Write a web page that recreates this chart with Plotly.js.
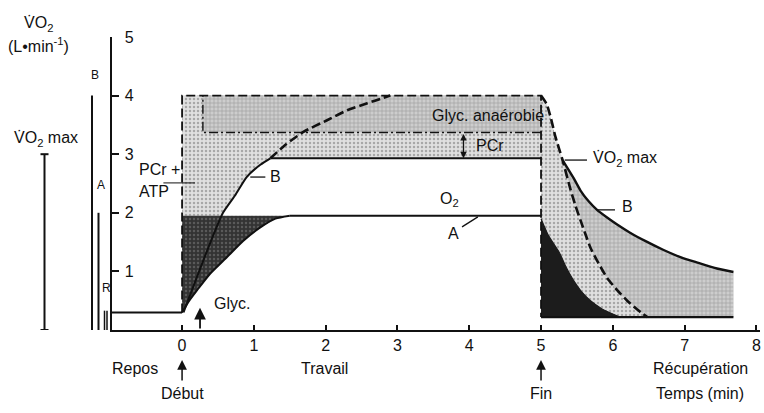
<!DOCTYPE html>
<html><head><meta charset="utf-8">
<script src="https://cdn.plot.ly/plotly-3.0.1.min.js"></script>
<style>html,body{margin:0;padding:0;background:#fff}#chart{width:764px;height:413px}</style>
</head><body><div id="chart"></div>
<script>
// ---- values (time in min, VO2 in L/min) ----
const axisStart = -1;
const restLevel = 0.3;
const recoveryFloor = 0.22;
const workStart = 0;
const workEnd = 5;
const demandLevel = 4.0;
const vo2maxLevel = 2.93;
const steadyLevel = 1.95;
const glycStart = 0.29;
const glycBottom = 3.37;
const recoveryEnd = 7.68;
const pcrArrowT = 3.92;
const glycArrowT = 0.25;
const glycArrowV = 0.38;

// curve A (O2 uptake at work onset)
const aOnT = [0, 0.1, 0.21, 0.39, 0.63, 0.85, 1.09, 1.3, 1.5];
const aOnV = [0.3, 0.5, 0.68, 0.96, 1.25, 1.52, 1.75, 1.9, 1.95];
// curve B, solid part (up to VO2max)
const bOnT = [0.02, 0.2, 0.38, 0.57, 0.74, 0.9, 1.09, 1.23];
const bOnV = [0.3, 0.88, 1.45, 2.0, 2.3, 2.61, 2.82, 2.93];
// curve B, dashed part (above VO2max)
const bDashT = [1.23, 1.45, 1.69, 2.02, 2.3, 2.58, 2.8, 2.9];
const bDashV = [2.93, 3.17, 3.38, 3.58, 3.75, 3.87, 3.96, 4.0];
// recovery: dashed curve
const recDashT = [5.0, 5.08, 5.14, 5.2, 5.3, 5.41, 5.48, 5.55, 5.62, 5.69, 5.8, 5.92, 6.06, 6.2, 6.34, 6.48];
const recDashV = [4.0, 3.85, 3.6, 3.3, 2.9, 2.4, 2.12, 1.87, 1.63, 1.4, 1.14, 0.89, 0.68, 0.5, 0.35, 0.22];
// recovery: curve B (solid)
const recBT = [5.3, 5.45, 5.55, 5.66, 5.78, 5.92, 6.06, 6.24, 6.45, 6.7, 6.95, 7.18, 7.45, 7.68];
const recBV = [2.9, 2.6, 2.38, 2.2, 2.05, 1.92, 1.8, 1.66, 1.52, 1.37, 1.24, 1.15, 1.05, 0.99];
// recovery: curve A (dark area edge)
const recAT = [5.0, 5.1, 5.26, 5.35, 5.45, 5.56, 5.68, 5.85, 6.1];
const recAV = [1.9, 1.62, 1.31, 1.07, 0.85, 0.66, 0.51, 0.36, 0.22];

const xTicks = [0, 1, 2, 3, 4, 5, 6, 7, 8];
const yTicks = [1, 2, 3, 4, 5];

// ---- styles ----
const INK = '#111';
const FONT = 'Liberation Sans, Arial, Helvetica, sans-serif';
const LIGHT = {color: '#e0e0e0', pattern: {shape: '.', fgcolor: '#a8a8a8', bgcolor: '#e0e0e0', size: 4, solidity: 0.3}};
const MEDIUM = {color: '#c8c8c8', pattern: {shape: '+', fgcolor: '#a0a0a0', bgcolor: '#cdcdcd', size: 4, solidity: 0.3}};
const DARKW = {color: '#383838', pattern: {shape: '.', fgcolor: '#5a5a5a', bgcolor: '#333333', size: 4, solidity: 0.3}};
const DARKR = {color: '#1c1c1c'};

function poly(x, y, st) {
  const t = {x: x, y: y, type: 'scatter', mode: 'lines', fill: 'toself', fillcolor: st.color,
          line: {width: 0, color: st.color}, hoverinfo: 'skip'};
  if (st.pattern) t.fillpattern = st.pattern;
  return t;
}
function line(x, y, opts) {
  return Object.assign({x: x, y: y, type: 'scatter', mode: 'lines', hoverinfo: 'skip'},
    {line: Object.assign({color: INK, width: 2}, opts || {})});
}
const rev = a => a.slice().reverse();
const last = a => a[a.length - 1];

const recDashFromB = recDashT.map((t, i) => [t, recDashV[i]]).filter(p => p[0] >= recBT[0]);

const traces = [
  // light: work region above O2 (PCr + ATP, PCr)
  poly([workStart, workEnd, workEnd].concat(rev(bOnT), [workStart]),
       [demandLevel, demandLevel, vo2maxLevel].concat(rev(bOnV), [restLevel]), LIGHT),
  // light: recovery part
  poly([workEnd].concat(recDashT, [workEnd]), [demandLevel].concat(recDashV, [recoveryFloor]), LIGHT),
  // medium: anaerobic glycolysis box
  poly([glycStart, workEnd, workEnd, glycStart], [glycBottom, glycBottom, demandLevel, demandLevel], MEDIUM),
  // medium: recovery between dashed curve and B
  poly(recBT.concat([recoveryEnd], rev(recDashFromB.map(p => p[0]))),
       recBV.concat([recoveryFloor], rev(recDashFromB.map(p => p[1]))), MEDIUM),
  // dark: O2 deficit at work onset
  poly(aOnT.concat([workStart]), aOnV.concat([steadyLevel]), DARKW),
  // dark: recovery
  poly(recAT.concat([workEnd]), recAV.concat([recoveryFloor]), DARKR),

  // lines
  line([axisStart, workStart], [restLevel, restLevel]),
  line(aOnT, aOnV, {shape: 'spline', smoothing: 0.6}),
  line([last(aOnT), workEnd], [last(aOnV), steadyLevel]),
  line(bOnT, bOnV, {shape: 'spline', smoothing: 0.6}),
  line([last(bOnT), workEnd], [last(bOnV), vo2maxLevel]),
  line(bDashT, bDashV, {shape: 'spline', smoothing: 0.6, dash: '9px,4px', width: 2.6}),
  line([workStart, workStart, workEnd, workEnd], [restLevel, demandLevel, demandLevel, recoveryFloor],
       {dash: '9px,4px', width: 1.8}),
  line([workEnd, glycStart, glycStart], [glycBottom, glycBottom, demandLevel],
       {dash: '9px,3px,2px,3px', width: 1.4}),
  line(recDashT, recDashV, {shape: 'spline', smoothing: 0.6, dash: '9px,4px', width: 2.6}),
  line(recBT, recBV, {shape: 'spline', smoothing: 0.6, width: 2.4}),
  line(recAT, recAV, {shape: 'spline', smoothing: 0.6, width: 1.2, color: '#1c1c1c'}),
  line([workEnd, recoveryEnd], [recoveryFloor, recoveryFloor], {width: 2.4})
];

// paper helpers for elements outside the plot area (plot area is x 112..760 px, y 37..330 px)
const px = p => (p - 112) / 648;
const py = p => (330 - p) / 293;

const annText = (text, x, y, opts) => Object.assign({text: text, x: x, y: y, showarrow: false,
  xanchor: 'center', yanchor: 'middle',
  font: {family: FONT, size: 16, color: INK}}, opts);
const small = {family: FONT, size: 12, color: INK};

const annotations = [
  annText('V\u0307O<sub>2</sub>', px(38), py(24), {xref: 'paper', yref: 'paper'}),
  annText('(L\u2022min<sup>-1</sup>)', px(38), py(45), {xref: 'paper', yref: 'paper'}),
  annText('B', px(95), py(75), {xref: 'paper', yref: 'paper', font: small}),
  annText('A', px(101), py(185), {xref: 'paper', yref: 'paper', font: small}),
  annText('R', px(106), py(288), {xref: 'paper', yref: 'paper', font: small}),
  annText('V\u0307O<sub>2</sub> max', px(46), py(139), {xref: 'paper', yref: 'paper'}),

  annText('Glyc. anaérobie', 4.26, 3.66, {xref: 'x', yref: 'y'}),
  annText('PCr', 4.29, 3.15, {xref: 'x', yref: 'y'}),
  annText('O<sub>2</sub>', 3.73, 2.22, {xref: 'x', yref: 'y'}),
  annText('A', 3.78, 1.64, {xref: 'x', yref: 'y'}),
  annText('B', 1.3, 2.62, {xref: 'x', yref: 'y'}),
  annText('PCr +', -0.63, 2.74, {xref: 'x', yref: 'y', xanchor: 'left'}),
  annText('ATP', -0.63, 2.36, {xref: 'x', yref: 'y', xanchor: 'left'}),
  annText('V\u0307O<sub>2</sub> max', 5.7, 2.92, {xref: 'x', yref: 'y', xanchor: 'left'}),
  annText('B', 6.2, 2.1, {xref: 'x', yref: 'y'}),
  annText('Glyc.', 0.42, 0.46, {xref: 'x', yref: 'y', xanchor: 'left'}),

  annText('Repos', -0.66, py(368), {xref: 'x', yref: 'paper'}),
  annText('Travail', 1.98, py(368), {xref: 'x', yref: 'paper'}),
  annText('Récupération', 7.22, py(368), {xref: 'x', yref: 'paper'}),
  annText('Début', 0, py(393), {xref: 'x', yref: 'paper'}),
  annText('Fin', 5, py(393), {xref: 'x', yref: 'paper'}),
  annText('Temps (min)', 7.22, py(393), {xref: 'x', yref: 'paper'}),

  // arrows
  {x: workStart, y: py(360), xref: 'x', yref: 'paper', ax: 0, ay: 22, text: '', showarrow: true,
   arrowhead: 2, arrowsize: 1.3, arrowwidth: 1.5, arrowcolor: INK},
  {x: workEnd, y: py(360), xref: 'x', yref: 'paper', ax: 0, ay: 22, text: '', showarrow: true,
   arrowhead: 2, arrowsize: 1.3, arrowwidth: 1.5, arrowcolor: INK},
  {x: glycArrowT, y: glycArrowV, xref: 'x', yref: 'y', axref: 'x', ayref: 'y', ax: glycArrowT, ay: 0,
   text: '', showarrow: true, arrowhead: 2, arrowsize: 1.3, arrowwidth: 1.8, arrowcolor: INK},
  {x: pcrArrowT, y: vo2maxLevel, xref: 'x', yref: 'y', axref: 'x', ayref: 'y', ax: pcrArrowT, ay: glycBottom,
   text: '', showarrow: true, arrowhead: 2, arrowside: 'end+start', arrowsize: 1, arrowwidth: 1.3, arrowcolor: INK}
];

const seg = (x0, y0, x1, y1, w, xref) => ({type: 'line', xref: xref || 'x', yref: 'y',
  x0: x0, y0: y0, x1: x1, y1: y1, line: {color: INK, width: w || 1.3}});

const shapes = [
  // leader lines
  seg(3.9, 1.76, 4.12, 1.93),
  seg(0.95, 2.61, 1.16, 2.61),
  seg(-0.26, 2.51, 0.18, 2.51, 1),
  seg(5.33, 2.9, 5.64, 2.9),
  seg(5.78, 2.05, 6.03, 2.05),
  // bars left of axis
  seg(px(92), 0, px(92), demandLevel, 2, 'paper'),
  seg(px(98.5), 0, px(98.5), steadyLevel + 0.05, 2, 'paper'),
  seg(px(104.5), 0, px(104.5), restLevel + 0.03, 1.5, 'paper'),
  seg(px(107), 0, px(107), restLevel + 0.03, 1.5, 'paper'),
  seg(px(44.5), 0, px(44.5), 3.0, 2, 'paper'),
  seg(px(40.5), 3.0, px(48.5), 3.0, 2, 'paper'),
  seg(px(40.5), 0, px(48.5), 0, 2, 'paper')
];

const layout = {
  width: 764, height: 413,
  margin: {l: 112, r: 4, t: 37, b: 83},
  paper_bgcolor: '#fff', plot_bgcolor: '#fff',
  showlegend: false, hovermode: false,
  font: {family: FONT, size: 16, color: INK},
  xaxis: {range: [-0.976, 8.05], tickvals: xTicks, ticktext: xTicks.map(String),
          ticks: 'inside', ticklen: 5, tickwidth: 2, tickcolor: INK,
          showline: true, linewidth: 2, linecolor: INK, showgrid: false, zeroline: false,
          tickfont: {family: FONT, size: 16, color: INK}},
  yaxis: {range: [0, 5], tickvals: yTicks, ticktext: yTicks.map(String),
          ticks: 'inside', ticklen: 7, tickwidth: 2, tickcolor: INK,
          ticklabelposition: 'inside', ticklabeloverflow: 'allow', ticklabelstandoff: 6,
          showline: true, linewidth: 2, linecolor: INK, showgrid: false, zeroline: false,
          tickfont: {family: FONT, size: 16, color: INK}},
  annotations: annotations,
  shapes: shapes
};

Plotly.newPlot('chart', traces, layout, {staticPlot: true, displayModeBar: false});
</script>
</body></html>
